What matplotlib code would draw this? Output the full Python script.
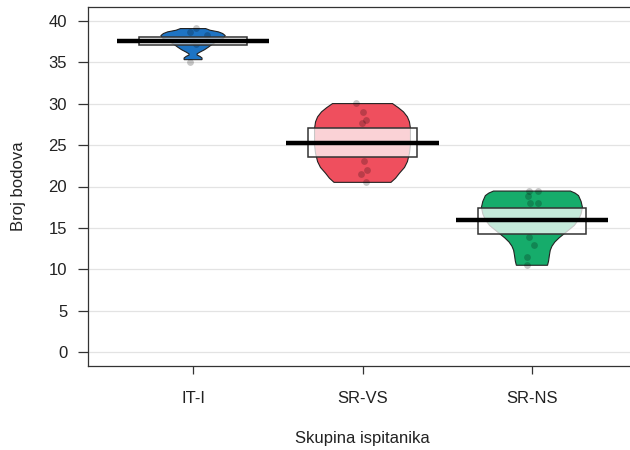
import numpy as np
import matplotlib
matplotlib.use('Agg')
import matplotlib.pyplot as plt
from matplotlib.patches import Rectangle

plt.rcParams['font.family'] = ['Liberation Sans', 'DejaVu Sans']

groups = ['IT-I', 'SR-VS', 'SR-NS']
colors = ['#1E74C4', '#EF4F5E', '#16AC6B']

# violin outlines: y value and half width (in x units)
it_y  = [35.3, 35.5, 35.7, 35.85, 36.0, 36.2, 36.5, 36.8, 37.1, 37.5, 37.9, 38.2, 38.45, 38.65, 38.85, 39.05]
it_hw = [0.053, 0.053, 0.04, 0.024, 0.024, 0.04, 0.068, 0.09, 0.11, 0.14, 0.18, 0.19, 0.175, 0.15, 0.10, 0.074]
vs_y  = [20.5, 21.0, 21.6, 22.3, 23.0, 24.0, 25.0, 26.0, 27.0, 27.8, 28.4, 29.0, 29.5, 30.0]
vs_hw = [0.168, 0.195, 0.218, 0.248, 0.265, 0.277, 0.283, 0.283, 0.283, 0.277, 0.265, 0.242, 0.212, 0.177]
ns_y  = [10.5, 11.0, 11.7, 12.3, 12.8, 13.3, 13.8, 14.3, 14.8, 15.3, 16.0, 16.7, 17.5, 18.2, 18.9, 19.2, 19.45]
ns_hw = [0.092, 0.098, 0.103, 0.108, 0.118, 0.135, 0.16, 0.19, 0.22, 0.25, 0.275, 0.29, 0.298, 0.29, 0.275, 0.255, 0.227]

# raw scores (points) and their jitter
it_pts = [39.1, 38.6, 38.3, 37.6, 37.2, 35.0]
it_jit = [0.02, -0.02, 0.085, 0.0, 0.02, -0.02]
vs_pts = [30.1, 29.0, 28.0, 27.6, 23.1, 22.0, 21.5, 20.5]
vs_jit = [-0.04, 0.0, 0.018, -0.005, 0.008, 0.028, -0.006, 0.018]
ns_pts = [19.5, 19.5, 18.9, 18.0, 18.0, 13.9, 13.0, 11.5, 10.5]
ns_jit = [-0.016, 0.034, -0.022, -0.012, 0.034, -0.016, 0.013, -0.031, -0.031]

means = [37.5, 25.3, 16.0]
band_lo = [37.05, 23.6, 14.3]
band_hi = [38.05, 27.0, 17.4]

fig = plt.figure(figsize=(6.3, 4.5), dpi=100)
ax = fig.add_axes([88/630, 84/450, 549/630, 359/450])

for yv in range(0, 41, 5):
    ax.axhline(yv, color='#e3e3e3', lw=0.9, zorder=0)

outlines = [(it_y, it_hw), (vs_y, vs_hw), (ns_y, ns_hw)]
points = [(it_pts, it_jit), (vs_pts, vs_jit), (ns_pts, ns_jit)]

for i, (vy, hw) in enumerate(outlines):
    x0 = i + 1
    vy = np.array(vy)
    hw = np.array(hw)
    xs = np.concatenate([x0 - hw, (x0 + hw)[::-1]])
    ys = np.concatenate([vy, vy[::-1]])
    ax.fill(xs, ys, facecolor=colors[i], edgecolor='#222222', lw=0.8, zorder=2)

    pv, jit = points[i]
    ax.scatter(x0 + np.array(jit), pv, s=24, color='black', alpha=0.22, lw=0, zorder=3)

    ax.add_patch(Rectangle((x0 - 0.32, band_lo[i]), 0.64, band_hi[i] - band_lo[i],
                           facecolor='white', alpha=0.75, edgecolor='none', zorder=4))
    ax.add_patch(Rectangle((x0 - 0.32, band_lo[i]), 0.64, band_hi[i] - band_lo[i],
                           facecolor='none', edgecolor='#333333', lw=1.1, zorder=5))
    ax.plot([x0 - 0.45, x0 + 0.45], [means[i], means[i]], color='black', lw=3.2,
            solid_capstyle='butt', zorder=6)

ax.set_xlim(0.38, 3.62)
ax.set_ylim(-1.65, 41.65)
ax.set_xticks([1, 2, 3])
ax.set_xticklabels(groups)
ax.set_yticks(range(0, 41, 5))
ax.tick_params(axis='y', length=7, width=0.9, color='#333333', pad=8, labelsize=12, labelcolor='#222222')
ax.tick_params(axis='x', length=6, width=0.9, color='#333333', pad=12, labelsize=12, labelcolor='#222222')
for s in ['left', 'bottom', 'top', 'right']:
    ax.spines[s].set_color('#333333')
    ax.spines[s].set_linewidth(0.9)

ax.set_xlabel('Skupina ispitanika', fontsize=12, labelpad=18, color='#222222')
ax.set_ylabel('Broj bodova', fontsize=12, labelpad=16, color='#222222')

fig.savefig('out.png', dpi=100)
